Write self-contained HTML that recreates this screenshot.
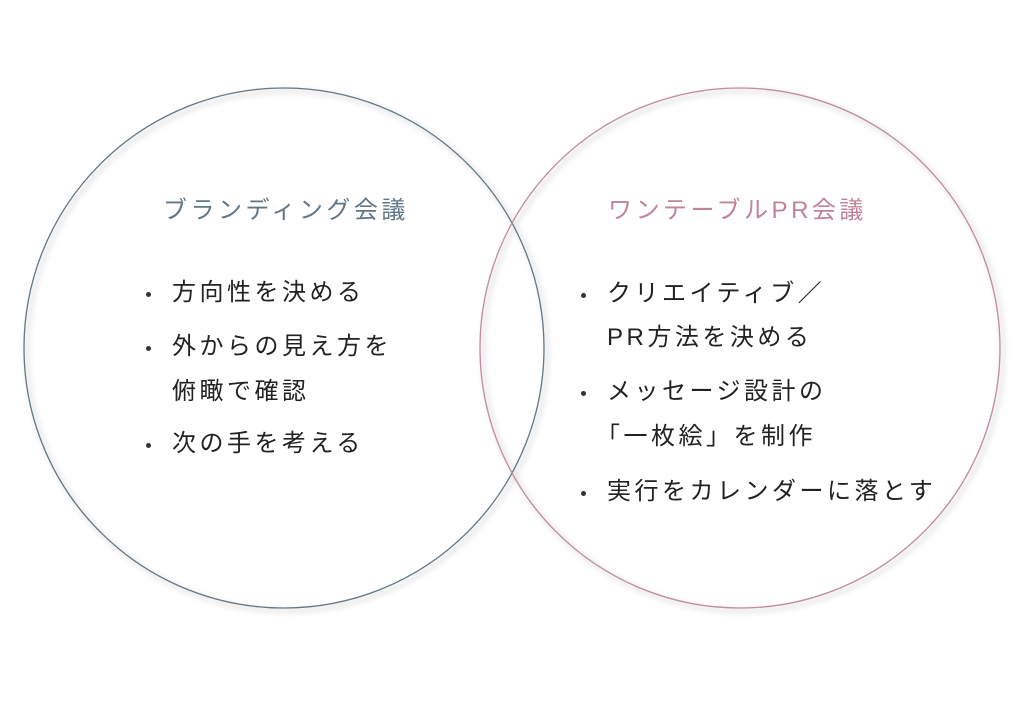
<!DOCTYPE html>
<html><head><meta charset="utf-8"><style>
body{margin:0;width:1024px;height:702px;background:#fff;position:relative;overflow:hidden;font-family:"Liberation Sans","Noto Sans CJK JP",sans-serif;}
.t{position:absolute;white-space:nowrap;line-height:1;}
.h{font-size:24px;letter-spacing:3.5px;}
.b{font-size:24px;letter-spacing:3.5px;color:#222;}
.d{position:absolute;width:5px;height:5px;border-radius:50%;background:#333;}
</style></head><body>
<svg width="1024" height="702" style="position:absolute;left:0;top:0">
<defs><filter id="s" x="-10%" y="-10%" width="120%" height="120%"><feGaussianBlur stdDeviation="3"/></filter></defs>
<circle cx="287" cy="351" r="260" fill="none" stroke="#ddd" stroke-width="3" filter="url(#s)"/>
<circle cx="743" cy="351" r="260" fill="none" stroke="#ddd" stroke-width="3" filter="url(#s)"/>
<circle cx="284" cy="348" r="260" fill="none" stroke="#627885" stroke-width="1.3"/>
<circle cx="740" cy="348" r="260" fill="none" stroke="#c28b9a" stroke-width="1.3"/>
</svg>
<div class="t h" style="left:163px;top:199px;color:#5f7787">ブランディング会議</div>
<div class="t h" style="left:608px;top:199px;color:#c08496">ワンテーブルPR会議</div>

<div class="d" style="left:146px;top:292px"></div>
<div class="t b" style="left:172px;top:281px">方向性を決める</div>
<div class="d" style="left:146px;top:346px"></div>
<div class="t b" style="left:172px;top:335px">外からの見え方を</div>
<div class="t b" style="left:172px;top:380px">俯瞰で確認</div>
<div class="d" style="left:146px;top:443px"></div>
<div class="t b" style="left:172px;top:432px">次の手を考える</div>

<div class="d" style="left:581px;top:293px"></div>
<div class="t b" style="left:607px;top:282px">クリエイティブ／</div>
<div class="t b" style="left:607px;top:326px">PR方法を決める</div>
<div class="d" style="left:581px;top:391px"></div>
<div class="t b" style="left:607px;top:380px">メッセージ設計の</div>
<div class="t b" style="left:596px;top:425px">「一枚絵」を制作</div>
<div class="d" style="left:581px;top:491px"></div>
<div class="t b" style="left:607px;top:480px">実行をカレンダーに落とす</div>
</body></html>
